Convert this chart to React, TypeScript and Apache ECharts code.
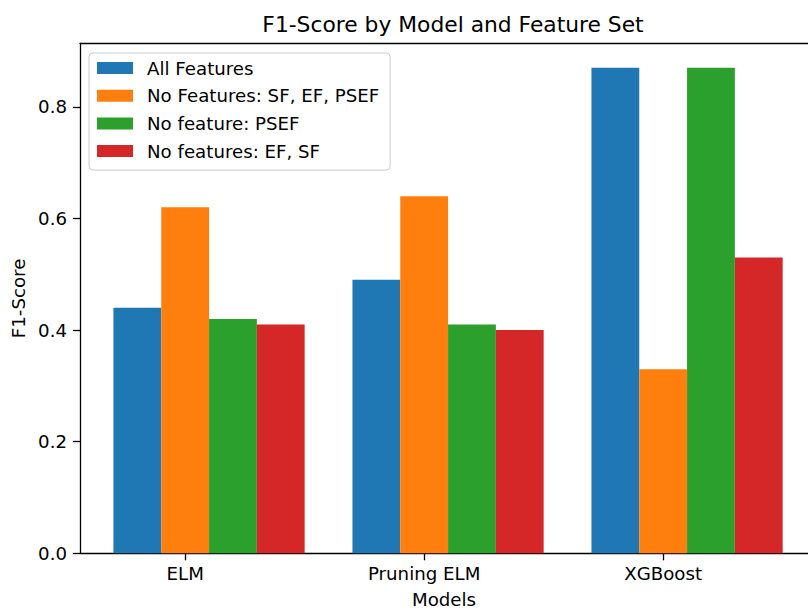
import React, { useEffect, useRef } from "react";
import * as echarts from "echarts";

const models = ["ELM", "Pruning ELM", "XGBoost"];
const featureSets = [
  "All Features",
  "No Features: SF, EF, PSEF",
  "No feature: PSEF",
  "No features: EF, SF",
];
const allFeatures = [0.44, 0.49, 0.87];
const noSfEfPsef = [0.62, 0.64, 0.33];
const noPsef = [0.42, 0.41, 0.87];
const noEfSf = [0.41, 0.4, 0.53];
const seriesValues = [allFeatures, noSfEfPsef, noPsef, noEfSf];
const yTicks = [0, 0.2, 0.4, 0.6, 0.8];
const modelTicks = [0, 1, 2];

const colors = ["#1f77b4", "#ff7f0e", "#2ca02c", "#d62728"];
const BAR_W = 0.2;
const FONT = "DejaVu Sans";
const X_MIN = -0.44;
const X_MAX = 2.606;
const Y_MAX = 0.9135;

export default function App() {
  const ref = useRef<HTMLDivElement>(null);
  useEffect(() => {
    if (!ref.current) return;
    const chart = echarts.init(ref.current, null, { renderer: "svg" });
    const series = featureSets.map((name, j) => ({
      name,
      type: "custom",
      xAxisIndex: 0,
      yAxisIndex: 0,
      itemStyle: { color: colors[j] },
      encode: { x: 0, y: 1 },
      data: models.map((_, i) => [i + (j - 1) * BAR_W, seriesValues[j][i]]),
      renderItem: (_params: any, api: any) => {
        const x = api.value(0);
        const y = api.value(1);
        const tl = api.coord([x - BAR_W / 2, y]);
        const br = api.coord([x + BAR_W / 2, 0]);
        return {
          type: "rect",
          shape: { x: tl[0], y: tl[1], width: br[0] - tl[0], height: br[1] - tl[1] },
          style: { fill: colors[j] },
        };
      },
    }));
    chart.setOption({
      animation: false,
      backgroundColor: "#ffffff",
      textStyle: { fontFamily: FONT },
      title: {
        text: "F1-Score by Model and Feature Set",
        left: 448,
        top: 8.5,
        textAlign: "center",
        textStyle: { fontSize: 21.8, fontWeight: "normal", color: "#000", fontFamily: FONT },
      },
      legend: {
        orient: "vertical",
        left: 89,
        top: 53,
        padding: [6, 11, 10, 8],
        itemWidth: 36,
        itemHeight: 12,
        itemGap: 9.7,
        icon: "rect",
        backgroundColor: "#ffffff",
        borderColor: "#cccccc",
        borderWidth: 1,
        borderRadius: 4,
        data: featureSets,
        textStyle: {
          fontSize: 18.2,
          lineHeight: 18,
          color: "#000",
          fontFamily: FONT,
          padding: [0, 0, 0, 9],
        },
      },
      grid: {
        left: 80,
        right: 0,
        top: 43.5,
        bottom: 55.7,
        containLabel: false,
        outerBoundsMode: "none",
      },
      xAxis: [
        {
          type: "value",
          min: X_MIN,
          max: X_MAX,
          position: "bottom",
          axisLine: { show: true, onZero: false, lineStyle: { color: "#000", width: 1.3 } },
          axisTick: { show: true, customValues: modelTicks, length: 7, lineStyle: { color: "#000", width: 1.3 } },
          axisLabel: {
            customValues: modelTicks,
            formatter: (v: number) => models[Math.round(v)],
            margin: 11,
            fontSize: 18.2,
            color: "#000",
            fontFamily: FONT,
          },
          splitLine: { show: false },
          name: "Models",
          nameLocation: "middle",
          nameGap: 37,
          nameTextStyle: { fontSize: 18.2, color: "#000", fontFamily: FONT },
        },
        {
          type: "value",
          min: X_MIN,
          max: X_MAX,
          position: "top",
          axisLine: { show: true, onZero: false, lineStyle: { color: "#000", width: 1.3 } },
          axisTick: { show: false },
          axisLabel: { show: false },
          splitLine: { show: false },
        },
      ],
      yAxis: {
        type: "value",
        min: 0,
        max: Y_MAX,
        axisLine: { show: true, onZero: false, lineStyle: { color: "#000", width: 1.3 } },
        axisTick: { show: true, customValues: yTicks, length: 7, lineStyle: { color: "#000", width: 1.3 } },
        axisLabel: {
          customValues: yTicks,
          formatter: (v: number) => v.toFixed(1),
          margin: 13,
          fontSize: 18.2,
          color: "#000",
          fontFamily: FONT,
        },
        splitLine: { show: false },
        name: "F1-Score",
        nameLocation: "middle",
        nameGap: 53,
        nameTextStyle: { fontSize: 18.2, color: "#000", fontFamily: FONT },
      },
      series,
    });
    return () => chart.dispose();
  }, []);
  return (
    <div
      ref={ref}
      style={{ position: "fixed", left: 0, top: 0, width: 808, height: 609 }}
    />
  );
}
